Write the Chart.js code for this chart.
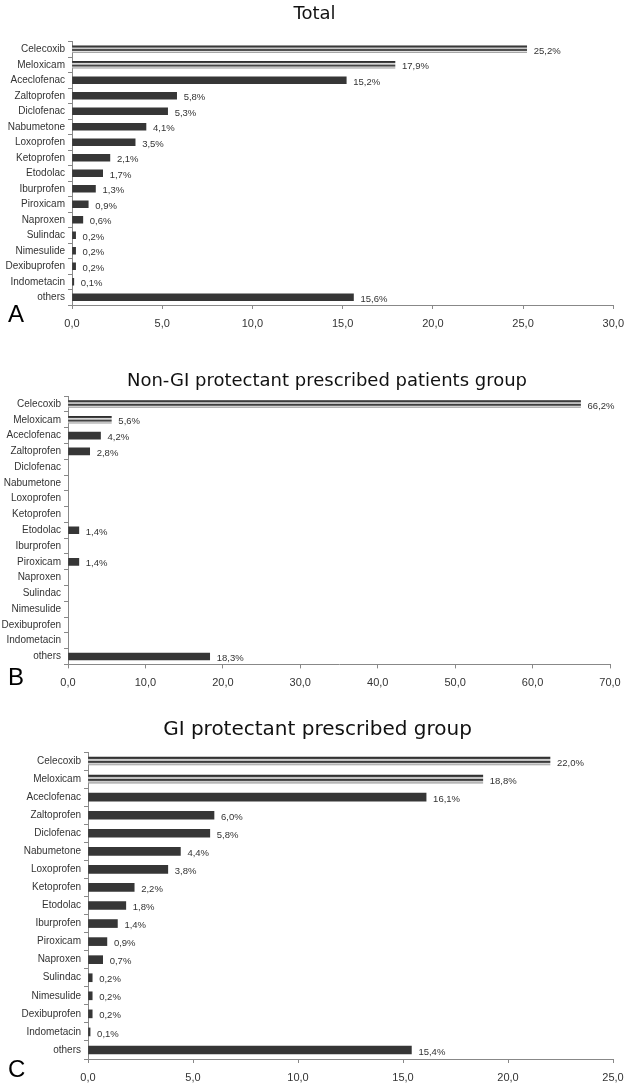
<!DOCTYPE html>
<html>
<head>
<meta charset="utf-8">
<script src="https://cdn.jsdelivr.net/npm/chart.js@4.4.1/dist/chart.umd.min.js"></script>
<style>
  body { margin: 0; background: #fff; width: 632px; height: 1085px; position: relative; overflow: hidden; font-family: "Liberation Sans", Arial, sans-serif; }
  canvas { position: absolute; left: 0; }
  .tag { position: absolute; left: 8px; font-size: 24px; line-height: 24px; color: #000; }
</style>
</head>
<body>
<canvas id="chartA" width="632" height="340" style="top:0px"></canvas>
<canvas id="chartB" width="632" height="355" style="top:345px"></canvas>
<canvas id="chartC" width="632" height="385" style="top:700px"></canvas>
<div class="tag" style="top:302px">A</div>
<div class="tag" style="top:665px">B</div>
<div class="tag" style="top:1057px">C</div>
<script>
const drugs = ["Celecoxib", "Meloxicam", "Aceclofenac", "Zaltoprofen", "Diclofenac", "Nabumetone",
  "Loxoprofen", "Ketoprofen", "Etodolac", "Iburprofen", "Piroxicam", "Naproxen", "Sulindac",
  "Nimesulide", "Dexibuprofen", "Indometacin", "others"];

const totalPct = [25.2, 17.9, 15.2, 5.8, 5.3, 4.1, 3.5, 2.1, 1.7, 1.3, 0.9, 0.6, 0.2, 0.2, 0.2, 0.1, 15.6];
const nonGiPct = [66.2, 5.6, 4.2, 2.8, null, null, null, null, 1.4, null, 1.4, null, null, null, null, null, 18.3];
const giPct = [22.0, 18.8, 16.1, 6.0, 5.8, 4.4, 3.8, 2.2, 1.8, 1.4, 0.9, 0.7, 0.2, 0.2, 0.2, 0.1, 15.4];

const ticksA = [0, 5, 10, 15, 20, 25, 30];
const ticksB = [0, 10, 20, 30, 40, 50, 60, 70];
const ticksC = [0, 5, 10, 15, 20, 25];

const FONT = '"Liberation Sans", Arial, sans-serif';
const TITLE_FONT = '"DejaVu Sans", Verdana, sans-serif';
Chart.defaults.font.family = FONT;

const fmt = v => Number(v).toFixed(1).replace(".", ",");

// first two bars get the striped "tube" look
function barFill(c) {
  if (c.dataIndex > 1) return "#363636";
  const chart = c.chart;
  const y = chart.scales.y;
  if (!y || y.top === undefined) return "#777";
  const yc = y.getPixelForValue(c.dataIndex);
  const h = c.dataset.barThickness;
  const g = chart.ctx.createLinearGradient(0, yc - h / 2, 0, yc + h / 2);
  g.addColorStop(0, "#2a2a2a");
  g.addColorStop(0.2, "#444");
  g.addColorStop(0.32, "#d8d8d8");
  g.addColorStop(0.45, "#bbb");
  g.addColorStop(0.55, "#3a3a3a");
  g.addColorStop(0.7, "#555");
  g.addColorStop(0.82, "#e0e0e0");
  g.addColorStop(1, "#999");
  return g;
}

const valueLabels = {
  id: "valueLabels",
  afterDatasetsDraw(chart) {
    const ctx = chart.ctx;
    const vals = chart.data.datasets[0].data;
    ctx.save();
    ctx.font = "9.5px " + FONT;
    ctx.fillStyle = "#333";
    ctx.textBaseline = "middle";
    chart.getDatasetMeta(0).data.forEach((bar, i) => {
      if (vals[i] == null) return;
      ctx.fillText(fmt(vals[i]) + "%", bar.x + 7, bar.y + 2);
    });
    ctx.restore();
  }
};

// nudge the title block sideways (title is not centred on the canvas in the original)
const titleShift = {
  id: "titleShift",
  afterLayout(chart, args, opts) {
    const t = chart.titleBlock;
    if (t) { t.left += opts.dx; t.right += opts.dx; }
  }
};

function makeChart(id, title, values, ticks, lay) {
  return new Chart(document.getElementById(id), {
    type: "bar",
    data: {
      labels: drugs,
      datasets: [{ data: values, backgroundColor: barFill, barThickness: lay.bar, borderWidth: 0 }]
    },
    options: {
      indexAxis: "y",
      responsive: false,
      animation: false,
      layout: { padding: { left: 0, right: lay.right, top: 0, bottom: 0 } },
      plugins: {
        legend: { display: false },
        tooltip: { enabled: false },
        titleShift: { dx: lay.dx },
        title: {
          display: true,
          text: title,
          color: "#111",
          font: { family: TITLE_FONT, size: lay.titleSize, weight: "normal" },
          padding: { top: lay.tTop, bottom: lay.tBot }
        }
      },
      scales: {
        x: {
          min: ticks[0],
          max: ticks[ticks.length - 1],
          ticks: { stepSize: ticks[1] - ticks[0], callback: v => fmt(v), color: "#333", font: { size: 11 }, padding: 8, maxRotation: 0 },
          grid: { drawOnChartArea: false, tickLength: 4, color: "#888" },
          border: { color: "#888" },
          afterFit: s => { s.height = lay.xh; }
        },
        y: {
          ticks: { color: "#333", font: { size: 10 }, padding: 3, autoSkip: false },
          grid: { drawOnChartArea: false, tickLength: 4, color: "#888", offset: true },
          border: { color: "#888" },
          afterFit: s => { s.width = lay.left; }
        }
      }
    },
    plugins: [valueLabels, titleShift]
  });
}

makeChart("chartA", "Total", totalPct, ticksA,
  { dx: 7, left: 72, right: 17, xh: 35, titleSize: 18, tTop: 3.2, tBot: 16.7, bar: 7 });
makeChart("chartB", "Non-GI protectant prescribed patients group", nonGiPct, ticksB,
  { dx: 22, left: 68, right: 22, xh: 35.6, titleSize: 18, tTop: 25.2, tBot: 4.3, bar: 7 });
makeChart("chartC", "GI protectant prescribed group", giPct, ticksC,
  { dx: 11, left: 88, right: 19, xh: 26, titleSize: 20, tTop: 18, tBot: 10, bar: 8 });
</script>
</body>
</html>
